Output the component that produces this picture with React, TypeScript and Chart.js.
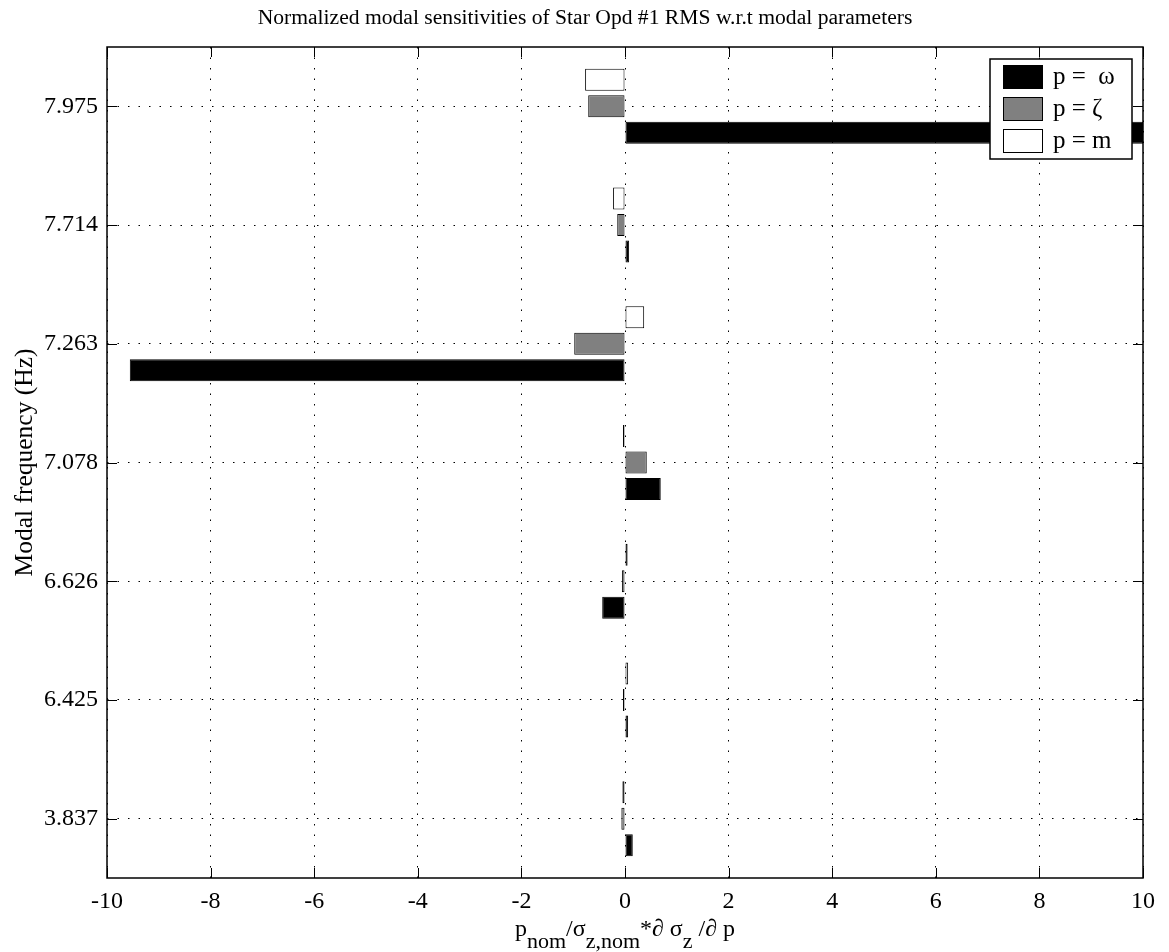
import React, { useEffect, useRef } from 'react';
import { Chart, registerables } from 'chart.js';

Chart.register(...registerables);

// ---- data ----
const categories = ['7.975', '7.714', '7.263', '7.078', '6.626', '6.425', '3.837'];
const omegaValues = [10, 0.08, -9.56, 0.69, -0.44, 0.06, 0.15];
const zetaValues = [-0.71, -0.15, -0.98, 0.42, -0.06, -0.02, -0.07];
const massValues = [-0.77, -0.23, 0.37, -0.02, 0.05, 0.06, -0.05];
const seriesNames = ['p =  ω', 'p = ζ', 'p = m'];
const seriesColors = ['#000000', '#808080', '#ffffff'];
const xMin = -10;
const xMax = 10;
const xStep = 2;
const titleText = 'Normalized modal sensitivities of Star Opd #1 RMS w.r.t modal parameters';
const yAxisTitle = 'Modal frequency (Hz)';
// x-axis title pieces: [text, isSubscript]
const xAxisTitleParts: [string, boolean][] = [
  ['p', false], ['nom', true], ['/σ', false], ['z,nom', true],
  ['*∂ σ', false], ['z', true], [' /∂ p', false],
];

const SERIF = '"Liberation Serif", "Times New Roman", serif';

const framePlugin = {
  id: 'matlabFrame',
  afterDraw(chart: any) {
    const { ctx, chartArea } = chart;
    const { left, right, top, bottom } = chartArea;
    const xs = chart.scales.x;
    const ys = chart.scales.y;
    ctx.save();
    // inward ticks
    ctx.strokeStyle = '#000';
    ctx.lineWidth = 1;
    ctx.beginPath();
    xs.ticks.forEach((t: any, i: number) => {
      const px = Math.round(xs.getPixelForTick(i)) + 0.5;
      ctx.moveTo(px, bottom); ctx.lineTo(px, bottom - 10);
      ctx.moveTo(px, top); ctx.lineTo(px, top + 10);
    });
    ys.ticks.forEach((t: any, i: number) => {
      const py = Math.round(ys.getPixelForTick(i)) + 0.5;
      ctx.moveTo(left, py); ctx.lineTo(left + 10, py);
      ctx.moveTo(right, py); ctx.lineTo(right - 10, py);
    });
    ctx.stroke();
    // box
    ctx.lineWidth = 1.5;
    ctx.strokeRect(left, top, right - left, bottom - top);

    // legend
    const lx = 990, ly = 59, lw = 142, lh = 100;
    ctx.fillStyle = '#fff';
    ctx.fillRect(lx, ly, lw, lh);
    ctx.lineWidth = 1.5;
    ctx.strokeStyle = '#000';
    ctx.strokeRect(lx, ly, lw, lh);
    const rowTops = [65, 97, 129];
    ctx.font = `25px ${SERIF}`;
    ctx.textBaseline = 'middle';
    ctx.textAlign = 'left';
    seriesNames.forEach((name, i) => {
      ctx.fillStyle = seriesColors[i];
      ctx.fillRect(1003, rowTops[i], 39, 23);
      ctx.lineWidth = 1;
      ctx.strokeStyle = '#000';
      ctx.strokeRect(1003.5, rowTops[i] + 0.5, 39, 23);
      ctx.fillStyle = '#000';
      ctx.fillText(name, 1053, rowTops[i] + 12);
    });

    // title
    ctx.font = `21.6px ${SERIF}`;
    ctx.textAlign = 'center';
    ctx.textBaseline = 'alphabetic';
    ctx.fillStyle = '#000';
    ctx.fillText(titleText, 585, 24);

    // y axis title
    ctx.save();
    ctx.translate(32, (top + bottom) / 2);
    ctx.rotate(-Math.PI / 2);
    ctx.font = `25.5px ${SERIF}`;
    ctx.textAlign = 'center';
    ctx.fillText(yAxisTitle, 0, 0);
    ctx.restore();

    // x axis title with subscripts
    const mainFont = `24px ${SERIF}`;
    const subFont = `22px ${SERIF}`;
    let total = 0;
    xAxisTitleParts.forEach(([s, sub]) => {
      ctx.font = sub ? subFont : mainFont;
      total += ctx.measureText(s).width;
    });
    let cx = (left + right) / 2 - total / 2;
    ctx.textAlign = 'left';
    const baseY = 936;
    xAxisTitleParts.forEach(([s, sub]) => {
      ctx.font = sub ? subFont : mainFont;
      ctx.fillText(s, cx, sub ? baseY + 12 : baseY);
      cx += ctx.measureText(s).width;
    });
    ctx.restore();
  },
};

export default function App() {
  const ref = useRef<HTMLCanvasElement>(null);
  useEffect(() => {
    if (!ref.current) return;
    const tickFont = { family: SERIF, size: 24 };
    const barBase = { borderColor: '#000', borderWidth: 1, borderSkipped: false as const, minBarLength: 2 };
    const chart = new Chart(ref.current, {
      type: 'bar',
      data: {
        labels: categories,
        datasets: [
          { label: seriesNames[2], data: massValues, backgroundColor: seriesColors[2], ...barBase },
          { label: seriesNames[1], data: zetaValues, backgroundColor: seriesColors[1], ...barBase },
          { label: seriesNames[0], data: omegaValues, backgroundColor: seriesColors[0], ...barBase },
        ],
      },
      options: {
        indexAxis: 'y',
        animation: false,
        responsive: false,
        devicePixelRatio: 1,
        layout: { padding: { top: 47, right: 26, left: 0, bottom: 0 } },
        datasets: { bar: { categoryPercentage: 0.67, barPercentage: 0.83 } },
        plugins: { legend: { display: false }, title: { display: false }, tooltip: { enabled: false } },
        scales: {
          x: {
            type: 'linear',
            min: xMin,
            max: xMax,
            ticks: { stepSize: xStep, color: '#000', font: tickFont, padding: 9, maxRotation: 0, autoSkip: false },
            grid: { color: '#000', drawTicks: false, lineWidth: 1 },
            border: { display: false, dash: [1.5, 9] },
            afterFit: (s: any) => { s.height = 74; },
          },
          y: {
            ticks: { color: '#000', font: tickFont, padding: 9 },
            grid: { color: '#000', drawTicks: false, lineWidth: 1, offset: false },
            border: { display: false, dash: [1.5, 9] },
            afterFit: (s: any) => { s.width = 107; },
          },
        },
      } as any,
      plugins: [framePlugin],
    });
    return () => chart.destroy();
  }, []);
  return (
    <div style={{ position: 'absolute', left: 0, top: 0, width: 1169, height: 952, background: '#fff' }}>
      <canvas ref={ref} width={1169} height={952} style={{ display: 'block' }} />
    </div>
  );
}
